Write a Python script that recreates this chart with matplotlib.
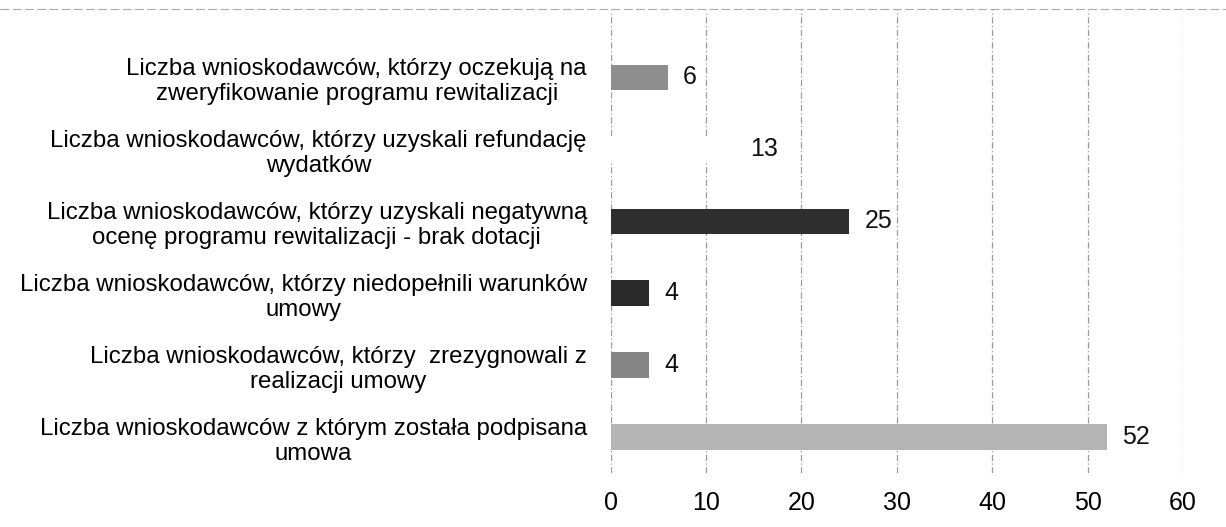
import matplotlib
matplotlib.use("Agg")
import matplotlib.pyplot as plt
from matplotlib.lines import Line2D

categories = [
    "Liczba wnioskodawców, którzy oczekują na\nzweryfikowanie programu rewitalizacji",
    "Liczba wnioskodawców, którzy uzyskali refundację\nwydatków",
    "Liczba wnioskodawców, którzy uzyskali negatywną\nocenę programu rewitalizacji - brak dotacji",
    "Liczba wnioskodawców, którzy niedopełnili warunków\numowy",
    "Liczba wnioskodawców, którzy  zrezygnowali z\nrealizacji umowy",
    "Liczba wnioskodawców z którym została podpisana\numowa",
]
values = [6, 13, 25, 4, 4, 52]
colors = ["#8e8e8e", "#ffffff", "#2e2e2e", "#2a2a2a", "#858585", "#b4b4b4"]
xticks = [0, 10, 20, 30, 40, 50, 60]

plt.rcParams['font.family'] = ['Liberation Sans', 'DejaVu Sans']

fig = plt.figure(figsize=(12.26, 5.27), dpi=100)
ax = fig.add_axes([0.498, 0.1025, 0.467, 0.878])

y = list(range(len(categories)))
ax.barh(y, values, height=0.35, color=colors, edgecolor="none", zorder=2)
for yi, v in zip(y, values):
    ax.text(v + 1.6, yi, str(v), va="center", ha="left", fontsize=18, color="#111111")

ax.set_ylim(len(categories) - 0.5, -0.93)
ax.set_xlim(0, 60)
ax.set_xticks(xticks)
ax.set_xticklabels([str(t) for t in xticks], fontsize=18)
ax.set_yticks(y)
ax.set_yticklabels(categories, fontsize=17.3, ha="right", multialignment="center",
                   linespacing=1.2)
ax.tick_params(axis="y", length=0, pad=17)
ax.tick_params(axis="x", length=0, pad=13)
for s in ax.spines.values():
    s.set_visible(False)
ax.xaxis.grid(True, linestyle=(0, (5, 2, 1, 2)), color="#9a9a9a", linewidth=0.9, zorder=0)
ax.set_axisbelow(True)

fig.add_artist(Line2D([0.0, 1.0], [0.982, 0.982], transform=fig.transFigure,
                      color="#aaaaaa", linewidth=0.8, linestyle=(0, (8, 3))))

fig.savefig("out.png", dpi=100, facecolor="white")
